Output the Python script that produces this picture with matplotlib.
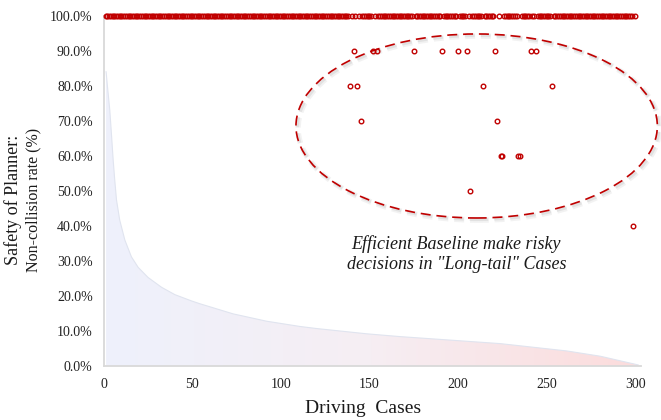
"""Non-collision rate of the efficient baseline over 300 driving cases."""

import matplotlib
matplotlib.use("Agg")
import matplotlib.pyplot as plt
import matplotlib.patheffects as pe
from matplotlib.colors import LinearSegmentedColormap
from matplotlib.patches import Ellipse
import numpy as np

# per-case non-collision rate: 100% except the cases listed below
n_cases = 300
outlier_cases = [141, 152, 154, 175, 191, 200, 205, 221, 241, 244,
                 139, 143, 214, 253,
                 145, 222,
                 224, 225, 234, 235,
                 207,
                 299]
outlier_rates = [90, 90, 90, 90, 90, 90, 90, 90, 90, 90,
                 80, 80, 80, 80,
                 70, 70,
                 60, 60, 60, 60,
                 50,
                 40]

# long-tail distribution shape drawn behind the points
tail_x = [1.3, 2.1, 3.4, 4.3, 5.3, 6.2, 7.2, 9.0, 11.9, 15.6, 19.4, 25.0, 32.6, 40.1,
          49.5, 54.2, 73.0, 91.9, 110.7, 120.2, 148.4, 167.2, 195.5, 223.7, 261.4,
          280.2, 301.7]
tail_y = [84.1, 79.8, 73.1, 66.5, 58.9, 53.1, 47.4, 41.7, 36.0, 31.2, 28.2, 25.3, 22.5,
          20.4, 18.6, 17.8, 14.9, 12.8, 11.3, 10.7, 9.2, 8.4, 7.4, 6.4, 4.3, 2.8, 0.3]

x_ticks = [0, 50, 100, 150, 200, 250, 300]
y_ticks = [0, 10, 20, 30, 40, 50, 60, 70, 80, 90, 100]

RED = "#c00000"
plt.rcParams["font.family"] = "Liberation Serif"

cases = np.arange(1, n_cases + 1)
rates = np.full(n_cases, 100.0)
rates[np.array(outlier_cases) - 1] = outlier_rates

fig = plt.figure(figsize=(6.61, 4.2), dpi=100)
ax = fig.add_axes([0.157, 0.1286, 0.812, 0.833])

# gradient-filled long-tail area
poly = ax.fill_between(tail_x, 0, tail_y, facecolor="none", edgecolor="none")
grad_cmap = LinearSegmentedColormap.from_list("tail", ["#eef1fc", "#f6eef3", "#fcdcdc"])
img = ax.imshow(np.linspace(0, 1, 256).reshape(1, -1), cmap=grad_cmap, aspect="auto",
                extent=[0, 302, 0, 85], origin="lower", zorder=1)
img.set_clip_path(poly.get_paths()[0], transform=ax.transData)
ax.plot(tail_x, tail_y, color="#e0e4ef", linewidth=0.8, zorder=2)

ax.plot(cases, rates, linestyle="none", marker="o", markersize=3.3,
        markerfacecolor="none", markeredgecolor=RED, markeredgewidth=1.0,
        clip_on=False, zorder=4)

ell = Ellipse((210.5, 68.6), 204, 52.6, fill=False, edgecolor=RED, linewidth=1.2,
              linestyle=(0, (6, 3.5)), clip_on=False, zorder=3)
ell.set_path_effects([pe.SimpleLineShadow(offset=(1.5, -1.5), shadow_color="#999999",
                                          alpha=0.12, linewidth=4),
                      pe.SimpleLineShadow(offset=(1.2, -1.2), shadow_color="#999999",
                                          alpha=0.18, linewidth=2),
                      pe.Normal()])
ax.add_patch(ell)

ax.text(199, 31.9, 'Efficient Baseline make risky\ndecisions in "Long-tail" Cases',
        ha="center", va="center", fontsize=13, style="italic", linespacing=1.25,
        color="#1a1a1a")

ax.set_xlim(0, 303)
ax.set_ylim(0, 100)
ax.set_xticks(x_ticks)
ax.set_yticks(y_ticks)
ax.set_yticklabels([f"{v:.1f}%" for v in y_ticks])
ax.tick_params(length=0, labelsize=10, labelcolor="#222222")
ax.tick_params(axis="y", pad=8)
ax.tick_params(axis="x", pad=9)
for side in ["top", "right"]:
    ax.spines[side].set_visible(False)
for side in ["left", "bottom"]:
    ax.spines[side].set_color("#d9d9d9")
    ax.spines[side].set_linewidth(1.3)

fig.text(0.0197, 0.524, "Safety of Planner:", rotation=90, ha="center", va="center",
         fontsize=13, color="#1a1a1a")
fig.text(0.050, 0.524, "Non-collision rate (%)", rotation=90, ha="center", va="center",
         fontsize=11.5, color="#1a1a1a")
fig.text(0.549, 0.028, "Driving  Cases", ha="center", va="center", fontsize=14,
         color="#1a1a1a")

fig.savefig("out.png", dpi=100)
plt.close(fig)
